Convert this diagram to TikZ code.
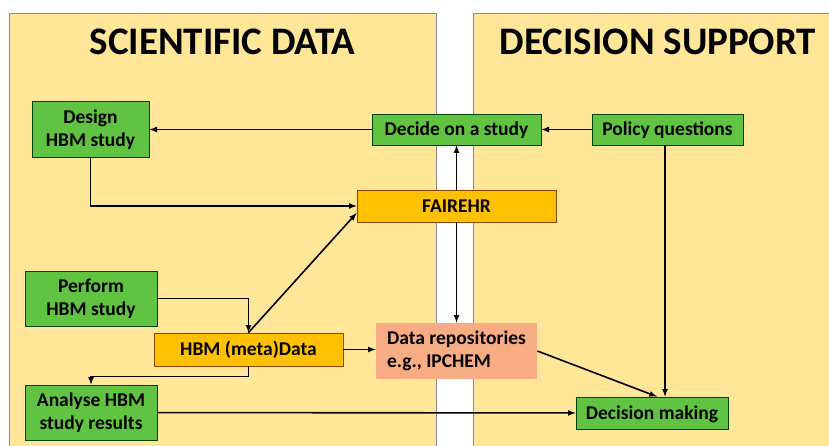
\documentclass[tikz,border=0pt]{standalone}
\usepackage{fontspec}
\setmainfont{Carlito}
\usepackage{tikz}
\usetikzlibrary{arrows}

\definecolor{panelfill}{RGB}{255,230,153}
\definecolor{boxgreen}{RGB}{96,196,66}
\definecolor{boxgold}{RGB}{255,192,0}
\definecolor{boxsalmon}{RGB}{248,172,132}

\begin{document}
\begin{tikzpicture}[x=1pt, y=-1pt,
		title/.style={font=\fontsize{39}{45}\selectfont\bfseries, inner sep=0pt},
		box/.style={font=\fontsize{19.5}{23}\selectfont\bfseries, align=center, inner sep=0pt, line width=.8pt},
		oneline/.style={text height=12.6pt, text depth=0pt},
		greenbox/.style={box, draw=green!25!black, fill=boxgreen},
		goldbox/.style={box, oneline, draw=orange!55!black, fill=boxgold},
		flow/.style={line width=1.6pt, -latex}]
				\useasboundingbox (0,0) rectangle (829,446);
				\draw[draw=black!45, fill=panelfill] (9,13) rectangle (436,460);
				\draw[draw=black!45, fill=panelfill] (473,13) rectangle (843,460);
				\node[title] (scititle) at (222.5,41.5) {SCIENTIFIC DATA};
				\node[title] (dectitle) at (658,41.5) {DECISION SUPPORT};
				% left panel
				\node[greenbox, minimum width=117pt, minimum height=56pt] (design) at (90.5,129.5) {Design\\HBM study};
				\node[greenbox, minimum width=132pt, minimum height=55pt] (perform) at (91,298.5) {Perform\\HBM study};
				\node[greenbox, minimum width=132pt, minimum height=55pt] (analyse) at (91,412.5) {Analyse HBM\\study results};
				\node[goldbox, minimum width=189pt, minimum height=33pt] (meta) at (248.5,349.5) {HBM (meta)Data};
				% across the gap
				\node[greenbox, oneline, minimum width=169pt, minimum height=31pt] (decide) at (456.5,129.5) {Decide on a study};
				\node[goldbox, minimum width=199pt, minimum height=32pt] (fairehr) at (456.5,206) {FAIREHR};
				\node[box, align=left, fill=boxsalmon, minimum width=161pt, minimum height=56pt] (repos) at (456.5,351) {Data repositories\\e.g., IPCHEM};
				% right panel
				\node[greenbox, oneline, minimum width=151pt, minimum height=31pt] (policy) at (667.5,129.5) {Policy questions};
				\node[greenbox, oneline, minimum width=152pt, minimum height=32pt] (decision) at (652,413) {Decision making};
				% connectors
				\draw[flow] (policy) -- (decide);
				\draw[flow] (decide) -- (design);
				\draw[flow] (design.south) |- (fairehr.west);
				\draw[flow] (fairehr) -- (decide);
				\draw[flow] (fairehr) -- (repos);
				\draw[flow] (perform.east) -| (meta.north);
				\draw[flow] (meta.north) -- ([yshift=-7pt]fairehr.west);
				\draw[flow] (meta.south) -- ++(0,10) -| (analyse.north);
				\draw[flow] (meta.east) -- (repos.west |- meta.east);
				\draw[flow] (analyse) -- (decision);
				\draw[flow] (repos.east) -- ([xshift=5pt]decision.north);
				\draw[flow] ([xshift=-2.5pt]policy.south) -- ([xshift=13pt]decision.north);
			\end{tikzpicture}
\end{document}
